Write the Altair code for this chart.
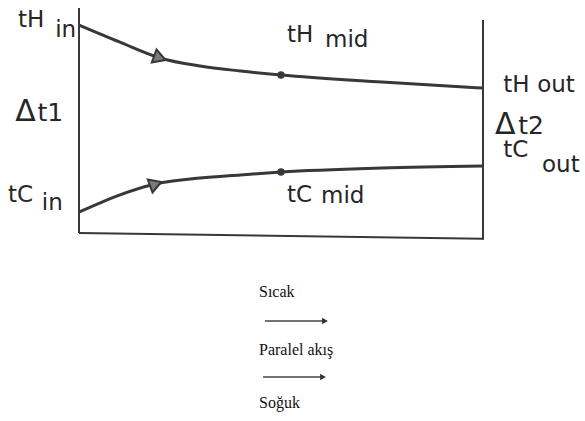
import altair as alt
import pandas as pd

# Position along the exchanger (0 = inlet, 1 = outlet) and temperature (arbitrary units)
pos_hot = [0.00, 0.10, 0.20, 0.30, 0.40, 0.50, 0.75, 1.00]
t_hot = [92.4, 84.9, 77.8, 74.2, 72.0, 70.2, 67.1, 64.4]
pos_cold = [0.00, 0.19, 0.30, 0.40, 0.50, 0.75, 1.00]
t_cold = [9.3, 21.8, 24.4, 25.8, 27.1, 28.9, 29.8]

arrow_pos = [0.20, 0.19]
arrow_t = [77.8, 21.8]
arrow_angle = [20, 340]

mid_pos = [0.50, 0.50]
mid_t = [70.2, 27.1]

label_text = ["tH", "in", "tC", "in", "tH", "mid", "tC", "mid",
              "tH", "out", "tC", "out"]
label_pos = [-0.151, -0.059, -0.176, -0.092, 0.515, 0.609, 0.515, 0.599,
             1.050, 1.134, 1.050, 1.146]
label_t = [91.6, 87.1, 13.8, 10.2, 84.9, 82.7, 13.8, 13.3,
           62.7, 62.7, 33.8, 27.1]

dt_text = ["t1", "t2"]
dt_pos = [-0.103, 1.087]
dt_t = [49.8, 44.0]

delta_text = ["\u0394", "\u0394"]
delta_pos = [-0.158, 1.030]
delta_t = [49.8, 44.0]

legend_text = ["S\u0131cak", "Paralel ak\u0131\u015f", "So\u011fuk"]

X_DOM = [0, 1]
Y_DOM = [0, 100]

xs = alt.Scale(domain=X_DOM, nice=False, zero=False)
ys = alt.Scale(domain=Y_DOM, nice=False, zero=False)

INK = "#383838"
TXT = "#262626"
FONT = "DejaVu Sans"

hot = pd.DataFrame({"pos": pos_hot, "t": t_hot})
cold = pd.DataFrame({"pos": pos_cold, "t": t_cold})
arrows = pd.DataFrame({"pos": arrow_pos, "t": arrow_t, "ang": arrow_angle})
mids = pd.DataFrame({"pos": mid_pos, "t": mid_t})
labels = pd.DataFrame({"pos": label_pos, "t": label_t, "txt": label_text})
dts = pd.DataFrame({"pos": dt_pos, "t": dt_t, "txt": dt_text})
deltas = pd.DataFrame({"pos": delta_pos, "t": delta_t, "txt": delta_text})

frame = pd.DataFrame({
    "pos": [X_DOM[0], X_DOM[0], X_DOM[1]],
    "pos2": [X_DOM[0], X_DOM[1], X_DOM[1]],
    "t": [Y_DOM[1], Y_DOM[0], 94.7],
    "t2": [Y_DOM[0], -2.6, -3.0],
})

X = alt.X("pos:Q", scale=xs, axis=None)
Y = alt.Y("t:Q", scale=ys, axis=None)

frame_layer = alt.Chart(frame).mark_rule(color=INK, strokeWidth=2).encode(
    x=X, x2="pos2:Q", y=Y, y2="t2:Q")

line_kw = dict(interpolate="monotone", color=INK, strokeWidth=3)
hot_layer = alt.Chart(hot).mark_line(**line_kw).encode(x=X, y=Y)
cold_layer = alt.Chart(cold).mark_line(**line_kw).encode(x=X, y=Y)

arrow_layer = alt.Chart(arrows).mark_point(
    shape="triangle-right", filled=True, size=190, fill="#7a7a7a",
    stroke=INK, strokeWidth=2, opacity=1).encode(
    x=X, y=Y, angle=alt.Angle("ang:Q", scale=None))

mid_layer = alt.Chart(mids).mark_circle(size=55, color=INK, opacity=1).encode(x=X, y=Y)

text_kw = dict(align="left", baseline="alphabetic", font=FONT, color=TXT)
label_layer = alt.Chart(labels).mark_text(fontSize=23, **text_kw).encode(
    x=X, y=Y, text="txt:N")
dt_layer = alt.Chart(dts).mark_text(fontSize=25, **text_kw).encode(
    x=X, y=Y, text="txt:N")
delta_layer = alt.Chart(deltas).mark_text(fontSize=30, **text_kw).encode(
    x=X, y=Y, text="txt:N")

# legend block below the diagram (pixel offsets inside the view)
leg_x = 180
leg_y = [289, 347, 400]
leg_layers = []
for txt, yy in zip(legend_text, leg_y):
    leg_layers.append(
        alt.Chart(pd.DataFrame({"txt": [txt]})).mark_text(
            align="left", baseline="alphabetic", font="Liberation Serif",
            fontSize=16, color="#111111").encode(
            x=alt.value(leg_x), y=alt.value(yy), text="txt:N"))

arrow_rows = [(186, 244, 313), (184, 242, 369)]
for x1, x2, yy in arrow_rows:
    leg_layers.append(
        alt.Chart(pd.DataFrame({"a": [0]})).mark_rule(color="#444444", strokeWidth=1.5).encode(
            x=alt.value(x1), x2=alt.value(x2), y=alt.value(yy)))
    leg_layers.append(
        alt.Chart(pd.DataFrame({"a": [0]})).mark_point(
            shape="triangle-right", filled=True, size=45, color="#333333", opacity=1).encode(
            x=alt.value(x2 + 2), y=alt.value(yy)))

chart = alt.layer(
    frame_layer, hot_layer, cold_layer, arrow_layer, mid_layer, label_layer,
    dt_layer, delta_layer, *leg_layers
).properties(
    width=404, height=225,
    padding={"left": 79, "top": 8, "right": 102, "bottom": 188},
    autosize=alt.AutoSizeParams(type="none"),
    background="white",
).configure_view(stroke=None)

chart.save("out.html", embed_options={"renderer": "svg", "actions": False})
